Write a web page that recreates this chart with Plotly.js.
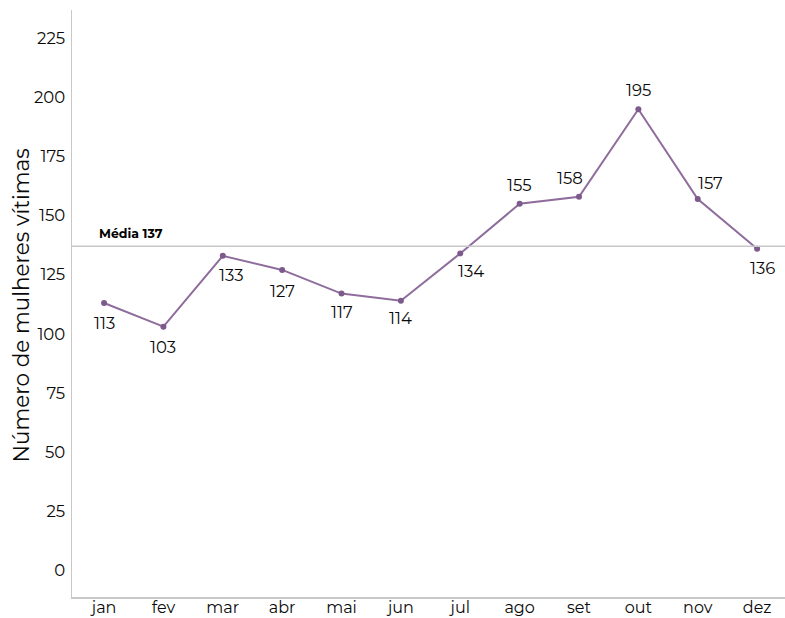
<!DOCTYPE html>
<html>
<head>
<meta charset="utf-8">
<script src="https://cdn.plot.ly/plotly-3.0.1.min.js"></script>
<style>html,body{margin:0;padding:0;background:#fff;}#chart{width:785px;height:618px;}</style>
</head>
<body>
<div id="chart"></div>
<script>
const months = ["jan","fev","mar","abr","mai","jun","jul","ago","set","out","nov","dez"];
const victims = [113,103,133,127,117,114,134,155,158,195,157,136];
const mediaValue = 137;
const mediaLabel = "Média 137";
const yTitle = "Número de mulheres vítimas";

// label offsets (pixels) for each point
const labelDx = [0,0,9,0,0,0,11,0,-9,0,13,5];
const labelDy = [-20,-20,-19,-21,-18,-17,-18,19,19,19,16,-19];

const FONT = "Montserrat, 'Open Sans', sans-serif";
const TXT = '#0a0a0a';

const annotations = months.map((m,i)=>({
  x: i, y: victims[i], xref:'x', yref:'y',
  text: String(victims[i]), showarrow:false,
  xshift: labelDx[i], yshift: labelDy[i],
  font:{family:FONT, size:16.5, color:TXT}
}));
annotations.push({
  x: -0.12, y: mediaValue, xref:'x', yref:'y', xanchor:'left', yanchor:'bottom',
  text:'<b>'+mediaLabel+'</b>', showarrow:false, yshift:3,
  font:{family:FONT, size:12.5, color:'#000'}
});
annotations.push({
  x: 0, y: 0.5, xref:'paper', yref:'paper', xanchor:'center', yanchor:'middle',
  xshift:-52, yshift:-2, textangle:-90, text:yTitle, showarrow:false,
  font:{family:FONT, size:21.5, color:TXT}
});

const trace = {
  x: months.map((m,i)=>i), y: victims, type:'scatter', mode:'lines+markers',
  line:{color:'#8e6c9b', width:2},
  marker:{color:'#7d5a8c', size:6},
  hoverinfo:'skip'
};

const layout = {
  width:785, height:618,
  margin:{l:72, r:0, t:10, b:21},
  paper_bgcolor:'#fff', plot_bgcolor:'#fff',
  showlegend:false,
  font:{family:FONT, size:16.5, color:TXT},
  xaxis:{
    range:[-0.54,11.47], tickmode:'array', tickvals:months.map((m,i)=>i), ticktext:months,
    showgrid:false, zeroline:false, showline:true, linecolor:'#c8c8c8', linewidth:1.5,
    ticks:'', ticklen:0, ticklabelstandoff:-5, tickfont:{family:FONT, size:16, color:TXT}, fixedrange:true
  },
  yaxis:{
    range:[-11.4,237], tickvals:[0,25,50,75,100,125,150,175,200,225],
    showgrid:false, zeroline:false, showline:true, linecolor:'#c8c8c8', linewidth:1.5,
    ticks:'', ticklabelstandoff:2, tickfont:{family:FONT, size:16.5, color:TXT},
    fixedrange:true
  },
  shapes:[{
    type:'line', xref:'paper', x0:0, x1:1, yref:'y', y0:mediaValue, y1:mediaValue,
    line:{color:'#c8c8c8', width:1.5}
  }],
  annotations: annotations
};

Plotly.newPlot('chart',[trace],layout,{displayModeBar:false, staticPlot:true});
</script>
</body>
</html>
